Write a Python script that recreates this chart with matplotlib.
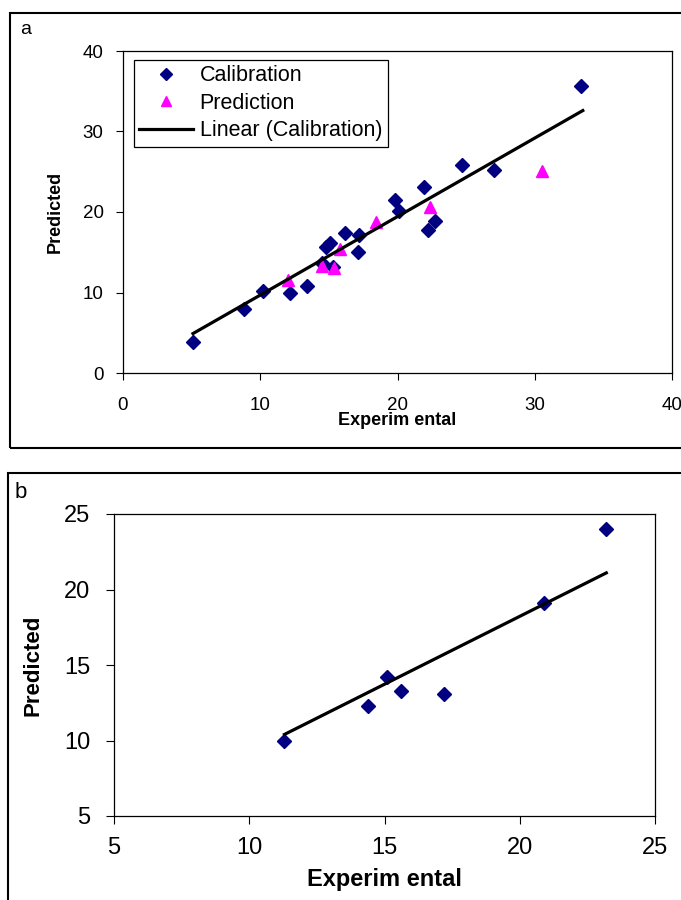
import matplotlib.pyplot as plt
from matplotlib.patches import Rectangle

plt.rcParams['font.family'] = ['Liberation Sans', 'DejaVu Sans']

# panel a: calibration / prediction sets
cal_x = [5.1, 8.8, 10.2, 12.2, 13.4, 14.5, 14.8, 15.1, 15.3, 16.2, 17.1, 17.2,
         19.8, 20.1, 21.9, 22.2, 22.7, 24.7, 27.0, 33.4]
cal_y = [3.9, 8.0, 10.2, 10.0, 10.8, 13.7, 15.7, 16.1, 13.2, 17.4, 15.0, 17.1,
         21.5, 20.1, 23.1, 17.8, 18.9, 25.8, 25.2, 35.6]
pred_x = [12.0, 14.5, 15.4, 15.8, 18.4, 22.4, 30.5]
pred_y = [11.5, 13.3, 13.1, 15.4, 18.8, 20.6, 25.1]
trend_a_x = [5.1, 33.5]
trend_a_y = [4.9, 32.6]

# panel b
b_x = [11.3, 14.4, 15.1, 15.6, 17.2, 20.9, 23.2]
b_y = [10.0, 12.3, 14.2, 13.3, 13.1, 19.1, 24.0]
trend_b_x = [11.3, 23.2]
trend_b_y = [10.4, 21.1]

navy = '#000080'
magenta = '#FF00FF'

fig = plt.figure(figsize=(6.81, 9.0), dpi=100)

# outer frames (cut off by the image edge like the scan)
fig.add_artist(Rectangle((10 / 681, 1 - 448 / 900), 1.0, 435 / 900, transform=fig.transFigure,
                         fill=False, lw=1.5, ec='black', clip_on=False))
fig.add_artist(Rectangle((8 / 681, -0.1), 1.0, 1 - 473 / 900 + 0.1, transform=fig.transFigure,
                         fill=False, lw=1.5, ec='black', clip_on=False))

# ---- panel a ----
ax = fig.add_axes([123 / 681, 1 - 373 / 900, 549 / 681, 322 / 900])
ax.plot(cal_x, cal_y, 'D', color=navy, ms=7.5, ls='none', label='Calibration')
ax.plot(pred_x, pred_y, '^', color=magenta, ms=9, ls='none', label='Prediction')
ax.plot(trend_a_x, trend_a_y, color='black', lw=2.3, label='Linear (Calibration)')
ax.set_xlim(0, 40)
ax.set_ylim(0, 40)
ax.set_xticks([0, 10, 20, 30, 40])
ax.set_yticks([0, 10, 20, 30, 40])
ax.tick_params(labelsize=13.5, direction='out', length=5, width=0.8)
ax.tick_params(axis='x', pad=12)
ax.tick_params(axis='y', pad=9)
for s in ax.spines.values():
    s.set_linewidth(0.9)
ax.set_ylabel('Predicted', fontsize=13, fontweight='bold')
ax.yaxis.set_label_coords(-0.108, 0.5)
ax.set_xlabel('Experim ental', fontsize=13, fontweight='bold')
ax.xaxis.set_label_coords(0.5, -0.122)
leg = ax.legend(loc='upper left', bbox_to_anchor=(0.02, 0.972), fontsize=15.5, fancybox=False,
                edgecolor='black', framealpha=1, handlelength=2.5, borderpad=0.25,
                labelspacing=0.3, handletextpad=0.3, borderaxespad=0, markerscale=0.8)
leg.get_frame().set_linewidth(0.9)
fig.text(20 / 681, 1 - 30 / 900, 'a', fontsize=14, va='center', ha='left')

# ---- panel b ----
bx = fig.add_axes([114 / 681, 1 - 816 / 900, 541 / 681, 302 / 900])
bx.plot(b_x, b_y, 'D', color=navy, ms=7.5, ls='none')
bx.plot(trend_b_x, trend_b_y, color='black', lw=2.3)
bx.set_xlim(5, 25)
bx.set_ylim(5, 25)
bx.set_xticks([5, 10, 15, 20, 25])
bx.set_yticks([5, 10, 15, 20, 25])
bx.tick_params(labelsize=17, direction='out', length=6, width=0.8)
bx.tick_params(axis='y', pad=11)
bx.tick_params(axis='x', pad=9)
for s in bx.spines.values():
    s.set_linewidth(0.9)
bx.set_ylabel('Predicted', fontsize=16, fontweight='bold')
bx.yaxis.set_label_coords(-0.131, 0.5)
bx.set_xlabel('Experim ental', fontsize=17, fontweight='bold')
bx.xaxis.set_label_coords(0.5, -0.172)
fig.text(15 / 681, 1 - 493 / 900, 'b', fontsize=16, va='center', ha='left')

fig.savefig('out.png', dpi=100)
